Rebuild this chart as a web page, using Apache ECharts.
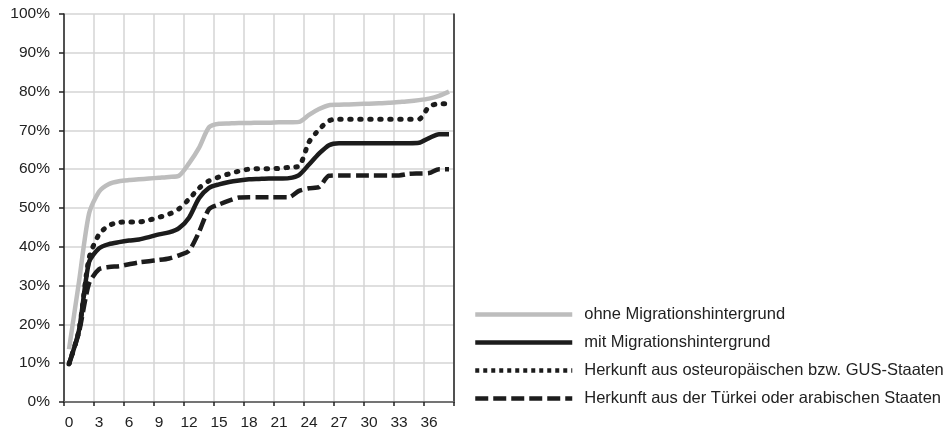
<!DOCTYPE html>
<html>
<head>
<meta charset="utf-8">
<script src="https://cdn.jsdelivr.net/npm/echarts@6/dist/echarts.min.js"></script>
<style>
html,body{margin:0;padding:0;background:#fff;}
#chart{width:952px;height:433px;}
</style>
</head>
<body>
<div id="chart"></div>
<script>
const categories = ['0','1','2','3','4','5','6','7','8','9','10','11','12','13','14','15','16','17','18','19','20','21','22','23','24','25','26','27','28','29','30','31','32','33','34','35','36','37','38'];
const seriesNames = ['ohne Migrationshintergrund','mit Migrationshintergrund','Herkunft aus osteuropäischen bzw. GUS-Staaten','Herkunft aus der Türkei oder arabischen Staaten'];
const ohne = [13.6,31,48.5,54.2,56.2,56.9,57.2,57.4,57.6,57.8,58.0,58.3,61.5,65.5,70.8,71.7,71.8,71.9,71.9,72.0,72.0,72.1,72.1,72.2,74.0,75.5,76.5,76.6,76.7,76.8,76.9,77.0,77.1,77.3,77.5,77.8,78.2,78.9,80.0];
const mit = [9.8,18.5,36,39.6,40.7,41.2,41.6,41.9,42.5,43.2,43.7,44.8,47.5,52.5,55.2,56.1,56.7,57.1,57.4,57.5,57.6,57.6,57.7,58.5,61.2,64.0,66.2,66.7,66.7,66.7,66.7,66.7,66.7,66.7,66.7,66.8,68.0,69.0,69.0];
const ost = [9.8,18.5,37,43.2,45.5,46.3,46.4,46.4,46.9,47.6,48.4,49.8,52.3,55.1,57.0,58.0,58.8,59.5,60.0,60.1,60.1,60.2,60.5,60.8,67.0,70.2,72.5,72.9,72.9,72.9,72.9,72.9,72.9,72.9,72.9,72.9,76.1,76.9,76.9];
const tuerk = [9.8,18.0,30.5,34.2,34.8,35.0,35.5,36.0,36.3,36.6,37.0,37.8,39.0,43.8,49.7,50.9,51.9,52.7,52.8,52.8,52.8,52.8,52.8,54.4,55.1,55.4,58.3,58.4,58.4,58.4,58.4,58.4,58.4,58.4,58.8,58.9,59.0,60.0,60.0];
const yTicks = [0,10,20,30,40,50,60,70,80,90,100];

const FONT = '"Liberation Sans", Arial, sans-serif';
const TXT = '#222';
const GRAY = '#bdbdbd', BLACK = '#1c1c1c';
const styles = [
  {color:GRAY, type:'solid', cap:'butt', width:4.5},
  {color:BLACK, type:'solid', cap:'butt', width:4.5},
  {color:BLACK, type:[1.5,8.5], cap:'round', width:5},
  {color:BLACK, type:[13,5], cap:'butt', width:4.5}
];
const legendStyles = [
  {color:GRAY, type:'solid', cap:'butt', width:4.5},
  {color:BLACK, type:'solid', cap:'butt', width:4.5},
  {color:BLACK, type:[4,4], cap:'butt', width:4.5},
  {color:BLACK, type:[13,5], cap:'butt', width:4.5}
];
const chart = echarts.init(document.getElementById('chart'), null, {renderer:'canvas'});
const dataSets = [ohne, mit, ost, tuerk];
const series = dataSets.map(function(d, i){
  const s = styles[i];
  return {name:seriesNames[i], type:'line', data:d, symbol:'none', smooth:0.25,
    xAxisIndex:0, yAxisIndex:0,
    lineStyle:{color:s.color, width:s.width, type:s.type, cap:s.cap, join:'round'},
    itemStyle:{color:s.color}};
});
const legendData = seriesNames.map(function(n, i){
  const s = legendStyles[i];
  return {name:n, itemStyle:{opacity:0},
    lineStyle:{color:s.color, width:s.width, type:s.type, cap:s.cap}};
});
chart.setOption({
  animation:false,
  grid:{left:64, right:498, top:14, bottom:31, containLabel:false},
  legend:{
    orient:'vertical', left:473, top:306, padding:0, itemWidth:97, itemHeight:15, itemGap:11,
    data:legendData,
    textStyle:{fontFamily:FONT, fontSize:16.5, color:TXT, padding:[0,0,0,7]}
  },
  xAxis:[{
    type:'category', data:categories, boundaryGap:true, position:'bottom',
    axisLine:{show:true, lineStyle:{color:'#222', width:1.5}},
    axisTick:{show:true, interval:2, length:4, lineStyle:{color:'#222', width:1.5}},
    axisLabel:{interval:2, margin:13, fontFamily:FONT, fontSize:15.5, color:TXT},
    splitLine:{show:true, interval:2, lineStyle:{color:'#d4d4d4', width:1.5}}
  },{
    type:'category', data:categories, boundaryGap:true, position:'top',
    axisLine:{show:true, lineStyle:{color:'#808080', width:1.5}},
    axisTick:{show:false}, axisLabel:{show:false}, splitLine:{show:false}
  }],
  yAxis:[{
    type:'value', min:0, max:100, interval:10,
    axisLine:{show:true, lineStyle:{color:'#222', width:1.5}},
    axisTick:{show:true, length:5, lineStyle:{color:'#222', width:1.5}},
    axisLabel:{margin:14, formatter:'{value}%', fontFamily:FONT, fontSize:15.5, color:TXT},
    splitLine:{show:true, lineStyle:{color:'#d4d4d4', width:1.5}}
  },{
    type:'value', min:0, max:100, interval:10, position:'right',
    axisLine:{show:true, lineStyle:{color:'#222', width:1.5}},
    axisTick:{show:false}, axisLabel:{show:false}, splitLine:{show:false}
  }],
  series:series
});
</script>
</body>
</html>
